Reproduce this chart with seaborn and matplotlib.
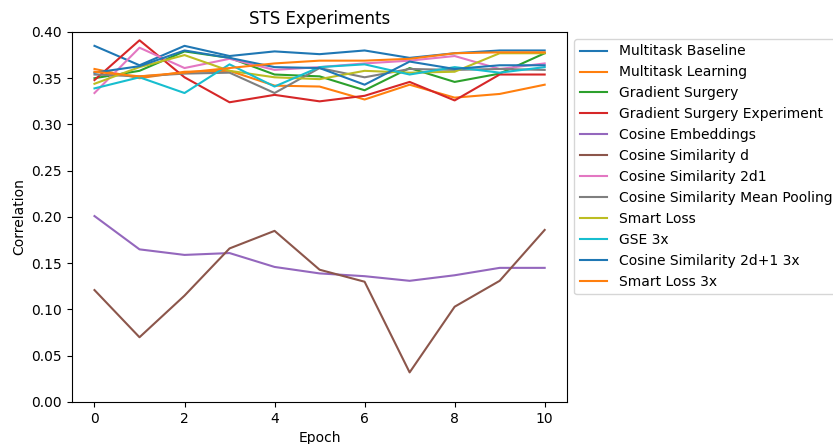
import matplotlib
matplotlib.use("Agg")
import matplotlib.pyplot as plt
import seaborn as sns
import pandas as pd
import numpy as np

epochs = list(range(11))
multitask_baseline = [0.385, 0.364, 0.385, 0.374, 0.379, 0.376, 0.380, 0.372, 0.377, 0.380, 0.380]
multitask_learning = [0.360, 0.350, 0.357, 0.358, 0.342, 0.341, 0.327, 0.343, 0.329, 0.333, 0.343]
gradient_surgery = [0.350, 0.358, 0.379, 0.372, 0.354, 0.352, 0.337, 0.361, 0.346, 0.355, 0.377]
gradient_surgery_exp = [0.348, 0.391, 0.351, 0.324, 0.332, 0.325, 0.331, 0.346, 0.326, 0.354, 0.354]
cosine_embeddings = [0.201, 0.165, 0.159, 0.161, 0.146, 0.139, 0.136, 0.131, 0.137, 0.145, 0.145]
cosine_similarity_d = [0.121, 0.070, 0.115, 0.166, 0.185, 0.143, 0.130, 0.032, 0.103, 0.131, 0.186]
cosine_similarity_2d1 = [0.334, 0.383, 0.361, 0.371, 0.359, 0.362, 0.366, 0.369, 0.374, 0.360, 0.366]
cosine_mean_pooling = [0.354, 0.352, 0.355, 0.356, 0.334, 0.361, 0.351, 0.360, 0.359, 0.360, 0.359]
smart_loss = [0.344, 0.362, 0.375, 0.358, 0.351, 0.349, 0.358, 0.356, 0.357, 0.377, 0.377]
gse_3x = [0.339, 0.351, 0.334, 0.365, 0.341, 0.362, 0.365, 0.354, 0.362, 0.356, 0.362]
cosine_2d1_3x = [0.356, 0.363, 0.380, 0.372, 0.362, 0.361, 0.343, 0.368, 0.360, 0.364, 0.364]
smart_loss_3x = [0.357, 0.352, 0.356, 0.361, 0.366, 0.369, 0.369, 0.371, 0.377, 0.378, 0.378]

names = ["Multitask Baseline", "Multitask Learning", "Gradient Surgery",
         "Gradient Surgery Experiment", "Cosine Embeddings", "Cosine Similarity d",
         "Cosine Similarity 2d1", "Cosine Similarity Mean Pooling", "Smart Loss",
         "GSE 3x", "Cosine Similarity 2d+1 3x", "Smart Loss 3x"]
series = [multitask_baseline, multitask_learning, gradient_surgery, gradient_surgery_exp,
          cosine_embeddings, cosine_similarity_d, cosine_similarity_2d1, cosine_mean_pooling,
          smart_loss, gse_3x, cosine_2d1_3x, smart_loss_3x]

rows = []
for n, s in zip(names, series):
    for e, v in zip(epochs, s):
        rows.append({"Epoch": e, "Correlation": v, "Experiment": n})
df = pd.DataFrame(rows)

tab = sns.color_palette("tab10")
palette = {n: tab[i % 10] for i, n in enumerate(names)}

fig = plt.figure(figsize=(8.33, 4.44), dpi=100)
ax = fig.add_axes([0.0864, 0.0946, 0.5945, 0.8334])
sns.lineplot(data=df, x="Epoch", y="Correlation", hue="Experiment",
             hue_order=names, palette=palette, ax=ax, linewidth=1.5)
ax.set_ylim(0, 0.40)
ax.set_xlim(-0.5, 10.5)
ax.set_yticks(np.arange(0, 0.401, 0.05))
ax.set_yticklabels([f"{t:.2f}" for t in np.arange(0, 0.401, 0.05)])
ax.set_xticks([0, 2, 4, 6, 8, 10])
ax.set_title("STS Experiments")
ax.set_xlabel("Epoch")
ax.set_ylabel("Correlation")
ax.legend(loc="upper left", bbox_to_anchor=(1.0, 1.0), title=None, fontsize=10)
fig.savefig("out.png", dpi=100)
